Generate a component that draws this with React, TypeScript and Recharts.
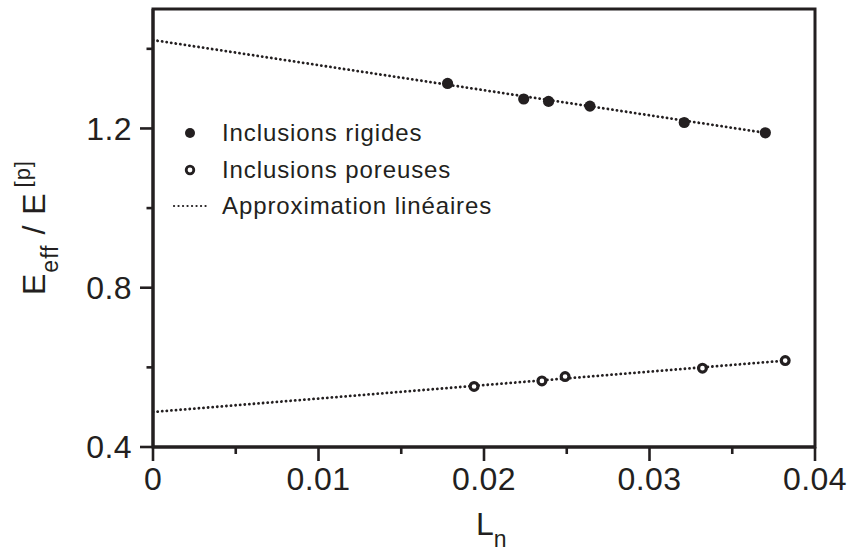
import React from 'react';
import {
  ComposedChart,
  Line,
  Scatter,
  XAxis,
  YAxis,
  ReferenceArea,
  Legend,
} from 'recharts';

const ink = '#231f20';
const font = '"Liberation Sans", Arial, Helvetica, sans-serif';

// L_n values and E_eff / E[p] values
const lnRigid = [0.0178, 0.0224, 0.0239, 0.0264, 0.0321, 0.037];
const eRigid = [1.313, 1.274, 1.268, 1.256, 1.215, 1.189];
const lnPorous = [0.0194, 0.0235, 0.0249, 0.0332, 0.0382];
const ePorous = [0.552, 0.566, 0.577, 0.598, 0.617];

// linear fits (end points)
const lnFitRigid = [0, 0.037];
const eFitRigid = [1.422, 1.189];
const lnFitPorous = [0, 0.0382];
const eFitPorous = [0.488, 0.617];

const xTicks = [0, 0.005, 0.01, 0.015, 0.02, 0.025, 0.03, 0.035, 0.04];
const xLabels = ['0', '', '0.01', '', '0.02', '', '0.03', '', '0.04'];
const yTicks = [0.4, 0.6, 0.8, 1.0, 1.2, 1.4];
const yLabels = ['0.4', '', '0.8', '', '1.2', ''];

const legendNames = ['Inclusions rigides', 'Inclusions poreuses', 'Approximation linéaires'];

const zip = (xs: number[], ys: number[]) => xs.map((x, i) => ({ x, y: ys[i] }));

const rigid = zip(lnRigid, eRigid);
const porous = zip(lnPorous, ePorous);
const fitRigid = zip(lnFitRigid, eFitRigid);
const fitPorous = zip(lnFitPorous, eFitPorous);

const XTick = (props: any) => {
  const { x, y, index } = props;
  const label = xLabels[index];
  const major = label !== '';
  return (
    <g>
      <line x1={x} x2={x} y1={y} y2={y + (major ? 14 : 7)} stroke={ink} strokeWidth={2.6} />
      {major && (
        <text x={x} y={y + 42.5} textAnchor="middle" fill={ink} fontSize={32} fontFamily={font} letterSpacing={0.4}>
          {label}
        </text>
      )}
    </g>
  );
};

const YTick = (props: any) => {
  const { x, y, index } = props;
  const label = yLabels[index];
  const major = label !== '';
  return (
    <g>
      <line x1={x} x2={x - (major ? 13 : 6.5)} y1={y} y2={y} stroke={ink} strokeWidth={2.6} />
      {major && (
        <text x={x - 21} y={y + 11.4} textAnchor="end" fill={ink} fontSize={32} fontFamily={font} letterSpacing={0.4}>
          {label}
        </text>
      )}
    </g>
  );
};

const FilledDot = (props: any) => <circle cx={props.cx} cy={props.cy} r={5.6} fill={ink} />;
const OpenDot = (props: any) => (
  <circle cx={props.cx} cy={props.cy} r={3.9} fill="#fff" stroke={ink} strokeWidth={3.2} />
);

const LegendBox = () => (
  <div style={{ fontFamily: font, fontSize: 24, color: ink, letterSpacing: 0.9 }}>
    {legendNames.map((name, i) => (
      <div key={name} style={{ display: 'flex', alignItems: 'center', height: 36.7 }}>
        <svg width={40} height={20} style={{ display: 'block' }}>
          {i === 0 && <circle cx={20} cy={10} r={5} fill={ink} />}
          {i === 1 && <circle cx={20} cy={10} r={3.8} fill="#fff" stroke={ink} strokeWidth={2.8} />}
          {i === 2 && (
            <line
              x1={4}
              x2={37}
              y1={10}
              y2={10}
              stroke={ink}
              strokeWidth={2.2}
              strokeDasharray="0.1 4.4"
              strokeLinecap="round"
            />
          )}
        </svg>
        <span style={{ marginLeft: 12, whiteSpace: 'nowrap' }}>{name}</span>
      </div>
    ))}
  </div>
);

const YLabel = () => (
  <text
    x={45}
    y={295}
    transform="rotate(-90, 45, 295)"
    fill={ink}
    fontSize={32}
    fontFamily={font}
    letterSpacing={1}
  >
    E
    <tspan fontSize={23} dy={13}>eff</tspan>
    <tspan dy={-13}> / E</tspan>
    <tspan fontSize={22} dx={5} dy={-15}>[p]</tspan>
  </text>
);

const XLabel = () => (
  <text x={476} y={535} fill={ink} fontSize={32} fontFamily={font}>
    L<tspan fontSize={23} dy={12}>n</tspan>
  </text>
);

export default function App() {
  return (
    <div style={{ position: 'absolute', left: 0, top: 0, background: '#fff' }}>
      <ComposedChart width={850} height={553} margin={{ top: 9, right: 35, bottom: 0, left: 0 }}>
        <XAxis
          type="number"
          dataKey="x"
          domain={[0, 0.04]}
          ticks={xTicks}
          interval={0}
          tickSize={0}
          tickMargin={0}
          tickLine={false}
          tick={<XTick />}
          height={106}
          axisLine={{ stroke: ink, strokeWidth: 3 }}
          allowDataOverflow
        />
        <YAxis
          type="number"
          dataKey="y"
          domain={[0.4, 1.5]}
          ticks={yTicks}
          interval={0}
          tickSize={0}
          tickMargin={0}
          tickLine={false}
          tick={<YTick />}
          width={153}
          axisLine={{ stroke: ink, strokeWidth: 3 }}
          allowDataOverflow
        />
        <ReferenceArea x1={0} x2={0.04} y1={0.4} y2={1.5} fill="none" stroke={ink} strokeWidth={3} />
        <Line
          data={fitRigid}
          dataKey="y"
          type="linear"
          dot={false}
          stroke={ink}
          strokeWidth={2.8}
          strokeDasharray="0.1 4.5"
          strokeLinecap="round"
          isAnimationActive={false}
          legendType="none"
        />
        <Line
          data={fitPorous}
          dataKey="y"
          type="linear"
          dot={false}
          stroke={ink}
          strokeWidth={2.8}
          strokeDasharray="0.1 4.5"
          strokeLinecap="round"
          isAnimationActive={false}
          legendType="none"
        />
        <Scatter data={rigid} dataKey="y" shape={<FilledDot />} isAnimationActive={false} />
        <Scatter data={porous} dataKey="y" shape={<OpenDot />} isAnimationActive={false} />
        <Legend
          layout="vertical"
          align="center"
          verticalAlign="middle"
          content={<LegendBox />}
          wrapperStyle={{ position: 'absolute', left: 170, top: 114.6, width: 'auto', bottom: 'auto' }}
        />
        <YLabel />
        <XLabel />
      </ComposedChart>
    </div>
  );
}
